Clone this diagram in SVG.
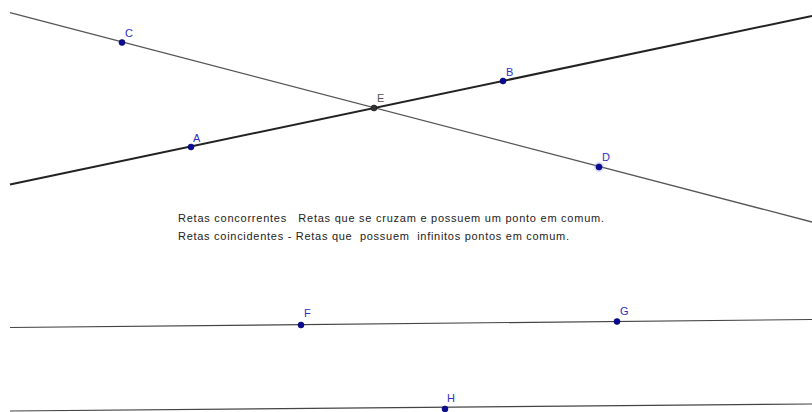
<svg xmlns="http://www.w3.org/2000/svg" width="812" height="412" viewBox="0 0 812 412">
<style>
.thin{stroke:#555;stroke-width:1.3;fill:none}
.thick{stroke:#222;stroke-width:2;fill:none}
.mid{stroke:#444;stroke-width:1.2;fill:none}
.pt{fill:#0a0a96;stroke:#000060;stroke-width:0.6}
.lbl{font-family:"Liberation Sans",Arial,sans-serif;font-size:11px;fill:#3030c0}
.txt{font-family:"Liberation Sans",Arial,sans-serif;font-size:11px;fill:#222;white-space:pre}
</style>
<rect width="812" height="412" fill="#fff"/>
<g id="connectors">
<line class="thin" x1="10" y1="12.7" x2="812" y2="222"/>
<line class="thick" x1="10" y1="184.5" x2="812" y2="16"/>
<line class="mid" x1="10" y1="327.5" x2="812" y2="319.5"/>
<line class="mid" x1="10" y1="411" x2="812" y2="404"/>
</g>
<g id="C"><circle class="pt" cx="122" cy="42.5" r="3"/><text class="lbl" x="125" y="37">C</text></g>
<g id="B"><circle class="pt" cx="503" cy="81" r="3"/><text class="lbl" x="506" y="76">B</text></g>
<g id="A"><circle class="pt" cx="191" cy="147" r="3"/><text class="lbl" x="193" y="142">A</text></g>
<g id="E"><circle cx="374" cy="108" r="3" fill="#333" stroke="#111" stroke-width="0.6"/><text class="lbl" x="377" y="102" style="fill:#555">E</text></g>
<g id="D"><circle cx="599" cy="167" r="5" fill="#8899ee" opacity="0.35"/><circle class="pt" cx="599" cy="167" r="3"/><text class="lbl" x="602" y="161">D</text></g>
<g id="F"><circle class="pt" cx="301" cy="325" r="3"/><text class="lbl" x="304" y="317">F</text></g>
<g id="G"><circle class="pt" cx="617" cy="321.5" r="3"/><text class="lbl" x="620" y="315">G</text></g>
<g id="H"><circle class="pt" cx="445" cy="409" r="3"/><text class="lbl" x="447" y="402">H</text></g>
<g id="texto">
<text class="txt" x="178" y="222" textLength="426" lengthAdjust="spacing" xml:space="preserve">Retas concorrentes   Retas que se cruzam e possuem um ponto em comum.</text>
<text class="txt" x="178" y="240" textLength="391" lengthAdjust="spacing" xml:space="preserve">Retas coincidentes - Retas que  possuem  infinitos pontos em comum.</text>
</g>
</svg>
